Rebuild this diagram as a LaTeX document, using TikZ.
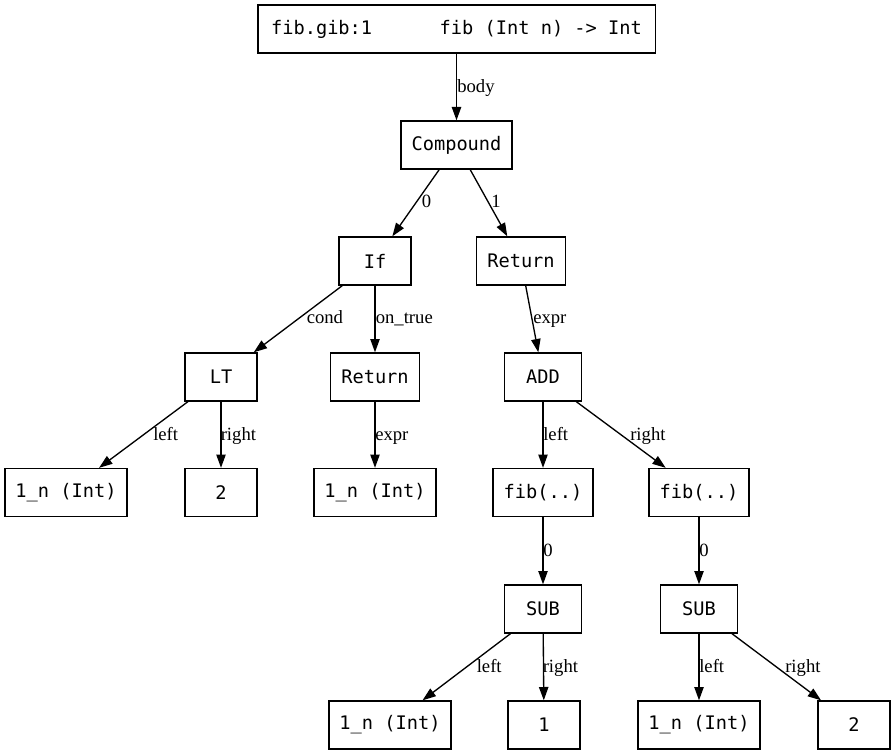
\documentclass[tikz,border=0pt]{standalone}
\usepackage{fontspec}
\setmainfont{Liberation Serif}
\setmonofont{DejaVu Sans Mono}
\usetikzlibrary{arrows.meta,positioning}

\begin{document}
\begin{tikzpicture}[
    x=0.75pt, y=-0.75pt,
    ast/.style={draw, line width=1pt, minimum height=36pt, minimum width=54pt, inner xsep=7.92pt, font=\ttfamily\fontsize{14}{17}\selectfont},
    wide/.style={ast, minimum width=58pt},
    conn/.style={-{Triangle[length=10pt,width=7pt]}, line width=1pt},
    lab/.style={anchor=base west, inner sep=0pt, font=\fontsize{14}{17}\selectfont}
]
\useasboundingbox (0,0) rectangle (895,755);

\node[ast, minimum width=298pt] (fn) at (456.5,29) {fib.gib:1\ \ \ \ \ \ fib (Int n) -> Int};

\node[ast] (cmp) at (456.5,145) {Compound};

\node[ast] (ifn) at (375,261) {If};
\node[ast] (ret1) at (521,261) {Return};

\node[ast] (lt) at (221,377) {LT};
\node[ast] (ret2) at (375,377) {Return};
\node[wide] (add) at (543,377) {ADD};

\node[ast] (n1) at (66,492.5) {1\_n (Int)};
\node[ast] (two1) at (221,492.5) {2};
\node[ast] (n2) at (375,492.5) {1\_n (Int)};
\node[ast] (fibl) at (543,492.5) {fib(..)};
\node[ast] (fibr) at (699,492.5) {fib(..)};

\node[wide] (subl) at (543,609) {SUB};
\node[wide] (subr) at (699,609) {SUB};

\node[ast] (n3) at (390,725) {1\_n (Int)};
\node[ast] (one) at (544,725) {1};
\node[ast] (n4) at (699,725) {1\_n (Int)};
\node[ast] (two2) at (854,725) {2};

\foreach \a/\b in {fn/cmp, cmp/ifn, cmp/ret1, ifn/lt, ifn/ret2, ret1/add,
                   lt/n1, lt/two1, ret2/n2, add/fibl, add/fibr,
                   fibl/subl, fibr/subr, subl/n3, subl/one, subr/n4, subr/two2} {
    \draw[conn] (\a) -- (\b);
}

\node[lab] (lbody) at (457,93) {body};
\node[lab] (lc0) at (421.5,207.5) {0};
\node[lab] (lc1) at (491,207.5) {1};
\node[lab] (lcond) at (306.5,324) {cond};
\node[lab] (ltrue) at (375.5,324) {on\_true};
\node[lab] (lexpr1) at (533,324) {expr};
\node[lab] (lleft1) at (153,440) {left};
\node[lab] (lright1) at (220.5,440) {right};
\node[lab] (lexpr2) at (375,440) {expr};
\node[lab] (lleft2) at (543,440) {left};
\node[lab] (lright2) at (630,440) {right};
\node[lab] (lz1) at (543,556) {0};
\node[lab] (lz2) at (699,556) {0};
\node[lab] (lleft3) at (476.5,672) {left};
\node[lab] (lright3) at (542.5,672) {right};
\node[lab] (lleft4) at (699,672) {left};
\node[lab] (lright4) at (785,672) {right};
\end{tikzpicture}
\end{document}
